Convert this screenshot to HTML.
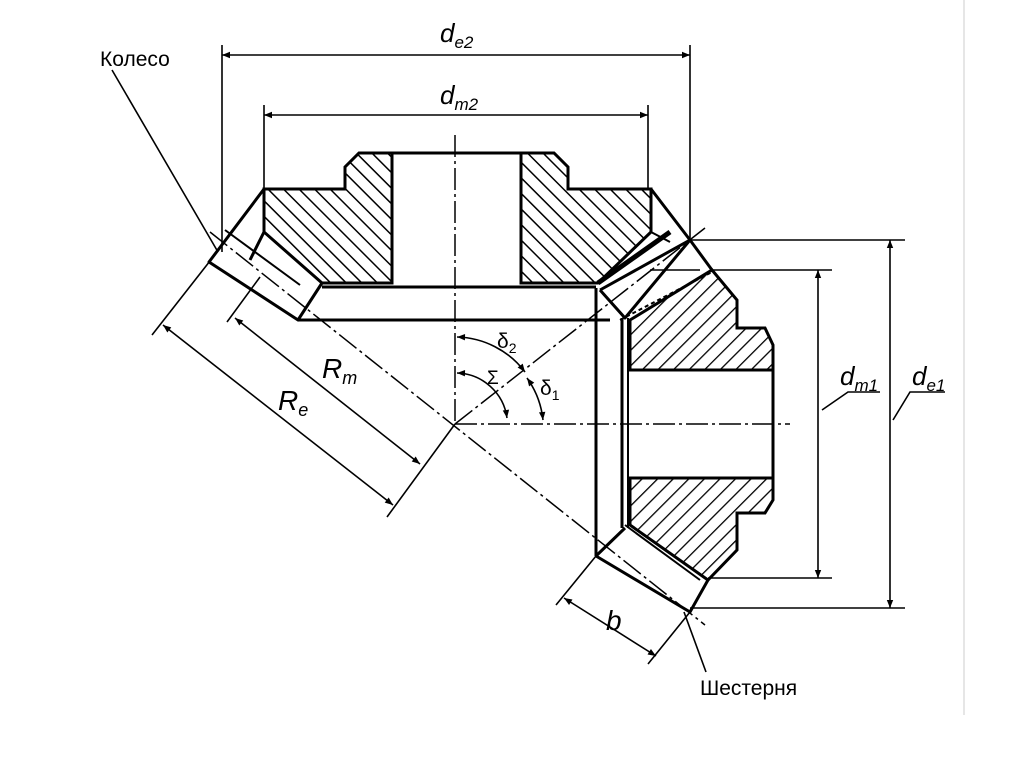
<!DOCTYPE html>
<html><head><meta charset="utf-8"><style>
html,body{margin:0;padding:0;background:#fff}
svg{display:block}
text{font-family:"Liberation Sans",sans-serif;fill:#000}
</style></head><body>
<svg width="1024" height="767" viewBox="0 0 1024 767" xmlns="http://www.w3.org/2000/svg">
<defs>
<pattern id="h" patternUnits="userSpaceOnUse" width="11" height="11" patternTransform="rotate(-45)">
<line x1="0" y1="0" x2="0" y2="11" stroke="#000" stroke-width="3"/>
</pattern>
<pattern id="h2" patternUnits="userSpaceOnUse" width="11" height="11" patternTransform="rotate(45)">
<line x1="0" y1="0" x2="0" y2="11" stroke="#000" stroke-width="2.6"/>
</pattern>
<marker id="a" viewBox="0 0 10 10" refX="10" refY="5" markerWidth="11" markerHeight="8" orient="auto-start-reverse" markerUnits="userSpaceOnUse">
<path d="M0,1 L10,5 L0,9 Z" fill="#000"/>
</marker>
</defs>
<line x1="964" y1="0" x2="964" y2="715" stroke="#ddd" stroke-width="1.5"/>

<!-- wheel hatched -->
<polygon points="264,189 345,189 345,167 359,153 392,153 392,283 322,283 264,232" fill="url(#h)" stroke="#000" stroke-width="3"/>
<polygon points="521,153 554,153 568,167 568,189 651,189 651,232 598,283 521,283" fill="url(#h)" stroke="#000" stroke-width="3"/>
<line x1="392" y1="153" x2="521" y2="153" stroke="#000" stroke-width="3"/>
<g fill="none" stroke="#000" stroke-width="3" stroke-linejoin="round">
<polyline points="264,189 209,262 298,320 322,283"/>
<line x1="264" y1="232" x2="250" y2="260"/>
<line x1="298" y1="320" x2="610" y2="320"/>
<line x1="322" y1="287" x2="596" y2="287"/>
<polyline points="651,189 690,240 600,290"/>
<line x1="225" y1="230" x2="300" y2="285" stroke-width="2"/>
<line x1="651" y1="232" x2="670" y2="242" stroke-width="2"/>
<line x1="598" y1="283" x2="670" y2="232" stroke-width="5"/>
</g>

<!-- pinion hatched -->
<polygon points="630,320 712,270 737,300 737,328 765,328 773,345 773,370 630,370" fill="url(#h2)" stroke="#000" stroke-width="3"/>
<polygon points="630,478 773,478 773,500 765,513 737,513 737,550 708,580 630,525" fill="url(#h2)" stroke="#000" stroke-width="3"/>
<line x1="773" y1="370" x2="773" y2="478" stroke="#000" stroke-width="3"/>
<g fill="none" stroke="#000" stroke-width="3" stroke-linejoin="round">
<line x1="596" y1="288" x2="596" y2="556"/>
<line x1="622" y1="318" x2="622" y2="528"/>
<line x1="628" y1="318" x2="628" y2="528" stroke-width="2"/>
<polyline points="600,290 625,318 690,240"/>
<polyline points="712,270 690,240"/>
<polyline points="596,556 625,528"/>
<polyline points="596,556 690,612 708,580"/>
<line x1="620" y1="320" x2="712" y2="272" stroke-width="2" stroke-dasharray="4,3"/>
<line x1="650" y1="270" x2="700" y2="270" stroke-width="1.5"/>
<line x1="625" y1="525" x2="700" y2="580" stroke-width="2"/>
</g>

<g stroke="#000" stroke-width="1.5" fill="none" stroke-dasharray="22,4,3,4">
<line x1="455" y1="135" x2="455" y2="424"/>
<line x1="455" y1="424" x2="790" y2="424"/>
<line x1="210" y1="232" x2="705" y2="625"/>
<line x1="455" y1="424" x2="705" y2="228"/>
</g>

<g stroke="#000" stroke-width="1.6" fill="none">
<line x1="222" y1="45" x2="222" y2="252"/>
<line x1="690" y1="45" x2="690" y2="238"/>
<line x1="222" y1="55" x2="690" y2="55" marker-start="url(#a)" marker-end="url(#a)"/>
<line x1="264" y1="105" x2="264" y2="189"/>
<line x1="648" y1="105" x2="648" y2="189"/>
<line x1="264" y1="115" x2="648" y2="115" marker-start="url(#a)" marker-end="url(#a)"/>
<line x1="690" y1="240" x2="905" y2="240"/>
<line x1="690" y1="608" x2="905" y2="608"/>
<line x1="890" y1="240" x2="890" y2="608" marker-start="url(#a)" marker-end="url(#a)"/>
<line x1="712" y1="270" x2="832" y2="270"/>
<line x1="708" y1="578" x2="832" y2="578"/>
<line x1="818" y1="270" x2="818" y2="578" marker-start="url(#a)" marker-end="url(#a)"/>
<polyline points="822,410 848,392 880,392"/>
<polyline points="893,420 910,392 945,392"/>
<line x1="152" y1="335" x2="217" y2="252"/>
<line x1="387" y1="517" x2="455" y2="424"/>
<line x1="163" y1="325" x2="393" y2="505" marker-start="url(#a)" marker-end="url(#a)"/>
<line x1="227" y1="322" x2="260" y2="277"/>
<line x1="235" y1="318" x2="420" y2="464" marker-start="url(#a)" marker-end="url(#a)"/>
<line x1="556" y1="605" x2="596" y2="556"/>
<line x1="648" y1="664" x2="690" y2="612"/>
<line x1="564" y1="598" x2="656" y2="656" marker-start="url(#a)" marker-end="url(#a)"/>
<line x1="112" y1="70" x2="218" y2="252"/>
<line x1="684" y1="612" x2="706" y2="672"/>
<path d="M457,337 A88,88 0 0 1 525,372" marker-start="url(#a)" marker-end="url(#a)"/>
<path d="M457,373 A52,52 0 0 1 507,418" marker-start="url(#a)" marker-end="url(#a)"/>
<path d="M527,378 A88,88 0 0 1 543,420" marker-start="url(#a)" marker-end="url(#a)"/>
</g>

<text x="100" y="66" font-size="21">Колесо</text>
<text x="700" y="695" font-size="21">Шестерня</text>
<text x="440" y="42" font-size="26" font-style="italic">d<tspan font-size="17" dy="6">e2</tspan></text>
<text x="440" y="104" font-size="26" font-style="italic">d<tspan font-size="17" dy="6">m2</tspan></text>
<text x="840" y="385" font-size="26" font-style="italic">d<tspan font-size="17" dy="6">m1</tspan></text>
<text x="912" y="385" font-size="26" font-style="italic">d<tspan font-size="17" dy="6">e1</tspan></text>
<text x="322" y="378" font-size="28" font-style="italic">R<tspan font-size="18" dy="6">m</tspan></text>
<text x="278" y="410" font-size="28" font-style="italic">R<tspan font-size="18" dy="6">e</tspan></text>
<text x="606" y="630" font-size="28" font-style="italic">b</text>
<text x="497" y="348" font-size="21" font-family="Liberation Serif">δ<tspan font-size="14" dy="5">2</tspan></text>
<text x="487" y="384" font-size="19" font-family="Liberation Serif">Σ</text>
<text x="540" y="395" font-size="21" font-family="Liberation Serif">δ<tspan font-size="14" dy="5">1</tspan></text>
</svg>
</body></html>
